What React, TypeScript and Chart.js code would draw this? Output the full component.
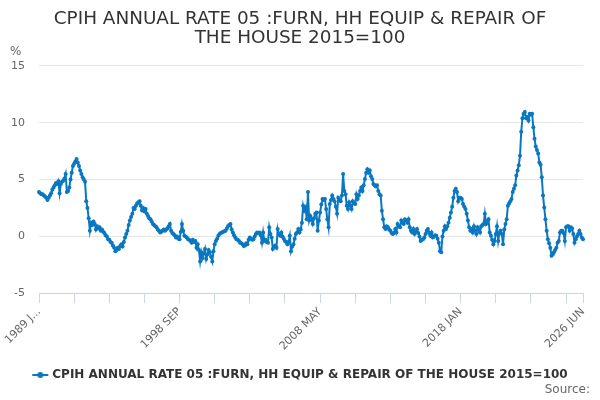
import { useEffect, useRef } from "react";
import { Chart, registerables } from "chart.js";

Chart.register(...registerables);

const TITLE = ["CPIH ANNUAL RATE 05 :FURN, HH EQUIP & REPAIR OF", "THE HOUSE 2015=100"];
const SERIES_NAME = "CPIH ANNUAL RATE 05 :FURN, HH EQUIP & REPAIR OF THE HOUSE 2015=100";
const START_YEAR = 1989;
const MONTHS = ["JAN", "FEB", "MAR", "APR", "MAY", "JUN", "JUL", "AUG", "SEP", "OCT", "NOV", "DEC"];

const y1989 = [3.9, 3.8, 3.7, 3.7, 3.6, 3.5, 3.4, 3.2, 3.4, 3.6, 3.8, 4.1];
const y1990 = [4.3, 4.5, 4.7, 4.6, 4.85, 3.8, 4.6, 4.8, 4.9, 5.1, 5.5, 3.9];
const y1991 = [4.0, 4.3, 5.0, 5.6, 6.2, 6.4, 6.6, 6.8, 6.5, 6.2, 5.8, 5.5];
const y1992 = [5.2, 5.0, 4.8, 3.1, 2.5, 1.6, 0.5, 1.2, 1.0, 1.3, 1.1, 0.6];
const y1993 = [0.9, 0.7, 0.8, 0.5, 0.6, 0.4, 0.3, 0.1, 0.0, -0.25, -0.3, -0.5];
const y1994 = [-0.55, -0.8, -1.0, -1.3, -1.2, -1.0, -1.1, -0.85, -0.7, -0.9, -0.5, -0.1];
const y1995 = [0.2, 0.5, 1.0, 1.4, 1.7, 2.0, 2.5, 2.4, 2.7, 2.9, 3.0, 3.1];
const y1996 = [2.7, 2.3, 2.5, 2.2, 2.4, 2.0, 1.8, 1.6, 1.5, 1.3, 1.1, 1.0];
const y1997 = [0.9, 0.8, 0.6, 0.5, 0.35, 0.4, 0.5, 0.6, 0.5, 0.6, 0.7, 0.9];
const y1998 = [1.1, 0.5, 0.3, 0.2, 0.1, -0.1, 0.0, -0.2, -0.25, 0.4, 1.1, 0.5];
const y1999 = [0.05, 0.0, -0.1, -0.25, -0.3, -0.4, -0.55, -0.3, -0.5, -0.4, -1.0, -0.7];
const y2000 = [-1.2, -2.2, -1.4, -1.9, -1.5, -1.1, -2.0, -1.6, -1.2, -1.4, -1.8, -2.2];
const y2001 = [-1.3, -0.7, -0.4, -0.2, 0.05, 0.2, 0.3, 0.35, 0.4, 0.45, 0.5, 0.7];
const y2002 = [0.9, 1.0, 1.1, 0.6, 0.35, 0.1, -0.1, -0.25, -0.3, -0.4, -0.55, -0.6];
const y2003 = [-0.7, -0.85, -0.8, -0.6, -0.7, -0.3, -0.1, -0.2, -0.3, -0.25, 0.0, 0.2];
const y2004 = [0.35, 0.3, 0.35, 0.1, -0.55, 0.35, -0.4, -0.3, -0.5, -0.55, 0.8, 0.2];
const y2005 = [-0.1, -1.1, -0.9, -0.8, -1.0, 0.65, 0.2, 0.05, 0.35, 0.0, -0.2, -0.4];
const y2006 = [-0.5, -0.7, -0.5, 0.05, -1.3, -0.9, -0.7, -0.2, 0.2, 0.35, 0.65, 0.35];
const y2007 = [0.6, 1.2, 2.7, 2.25, 2.55, 1.5, 3.9, 1.4, 1.8, 1.5, 1.1, 1.6];
const y2008 = [2.0, 2.1, 0.5, 1.4, 2.1, 2.8, 3.3, 3.2, 3.3, 2.4, 1.5, 0.8];
const y2009 = [2.85, 3.2, 3.6, 3.3, 3.1, 2.6, 2.0, 3.4, 3.2, 3.1, 3.6, 5.5];
const y2010 = [4.0, 3.7, 2.7, 2.4, 3.0, 2.7, 2.4, 3.1, 2.9, 2.85, 3.7, 3.3];
const y2011 = [3.6, 4.0, 4.3, 4.0, 4.5, 5.05, 5.6, 5.9, 5.6, 5.8, 5.3, 5.05];
const y2012 = [4.6, 4.5, 4.4, 4.5, 4.0, 3.7, 3.6, 2.25, 1.5, 0.8, 0.65, 0.9];
const y2013 = [0.8, 0.6, 0.5, 0.3, 0.2, 0.3, 0.65, 0.35, 1.1, 0.9, 0.8, 1.4];
const y2014 = [1.2, 1.1, 1.5, 1.4, 1.2, 1.5, 0.8, 0.5, 0.35, 0.65, 0.2, 0.4];
const y2015 = [0.65, 0.3, 0.0, -0.4, -0.3, -0.25, -0.1, 0.2, 0.5, 0.65, 0.3, 0.05];
const y2016 = [0.35, -0.1, 0.0, 0.1, 0.05, -0.2, -0.55, -1.3, -1.4, 0.0, 0.5, 0.9];
const y2017 = [0.65, 0.9, 1.2, 1.65, 2.1, 2.6, 3.4, 4.0, 4.2, 3.9, 3.1, 3.4];
const y2018 = [3.4, 3.3, 2.85, 2.6, 2.4, 2.0, 1.4, 0.8, 0.5, 0.65, 0.35, 0.9];
const y2019 = [0.5, 0.2, 0.8, 0.6, 0.35, 0.9, 1.0, 1.1, 2.0, 1.1, 1.3, 1.5];
const y2020 = [0.35, 0.05, -0.3, -0.7, -0.4, 0.2, 0.9, -0.4, 0.3, 0.5, 0.2, -0.7];
const y2021 = [0.6, 1.1, 1.5, 2.7, 2.9, 3.1, 3.3, 3.9, 4.2, 4.5, 5.35, 5.8];
const y2022 = [6.25, 7.1, 9.2, 10.4, 10.8, 10.95, 10.4, 10.5, 10.2, 10.8, 10.7, 10.8];
const y2023 = [9.6, 8.6, 7.9, 7.6, 7.3, 6.5, 6.3, 5.2, 3.6, 2.55, 1.5, 0.5];
const y2024 = [-0.25, -0.6, -1.0, -1.7, -1.6, -1.4, -1.2, -1.0, -0.55, -0.4, 0.35, 0.5];
const y2025 = [0.5, 0.3, -0.4, 0.8, 0.9, 0.9, 0.5, 0.8, 0.7, 0.2, -0.55, -0.25];
const y2026 = [0.0, 0.2, 0.5, 0.2, -0.1, -0.25];

const values = [
  ...y1989, ...y1990, ...y1991, ...y1992, ...y1993, ...y1994, ...y1995, ...y1996,
  ...y1997, ...y1998, ...y1999, ...y2000, ...y2001, ...y2002, ...y2003, ...y2004,
  ...y2005, ...y2006, ...y2007, ...y2008, ...y2009, ...y2010, ...y2011, ...y2012,
  ...y2013, ...y2014, ...y2015, ...y2016, ...y2017, ...y2018, ...y2019, ...y2020,
  ...y2021, ...y2022, ...y2023, ...y2024, ...y2025, ...y2026,
];

const categories = values.map((_, i) => `${START_YEAR + Math.floor(i / 12)} ${MONTHS[i % 12]}`);

const TICK_STEP = 29;
const LABEL_EVERY = 4;
const tickLabels = ["1989 J...", "1998 SEP", "2008 MAY", "2018 JAN", "2026 JUN"];

const yTicks = [-5, 0, 5, 10, 15];

const LINE_COLOR = "#0a77c1";
const FONT = "'DejaVu Sans', sans-serif";
const CENTER_SHIFT = 8.5;

function legendSymbol(): HTMLCanvasElement {
  const c = document.createElement("canvas");
  const r = window.devicePixelRatio || 1;
  c.width = 18 * r;
  c.height = 10 * r;
  c.style.width = "18px";
  c.style.height = "10px";
  const ctx = c.getContext("2d")!;
  ctx.scale(r, r);
  ctx.strokeStyle = LINE_COLOR;
  ctx.lineWidth = 2;
  ctx.beginPath();
  ctx.moveTo(1, 5);
  ctx.lineTo(17, 5);
  ctx.stroke();
  ctx.fillStyle = LINE_COLOR;
  ctx.beginPath();
  ctx.arc(9, 5, 3, 0, Math.PI * 2);
  ctx.fill();
  return c;
}

const extrasPlugin = {
  id: "extras",
  afterLayout(chart: any) {
    const lg = chart.legend;
    if (lg) {
      lg.left += CENTER_SHIFT + 1;
      lg.right += CENTER_SHIFT + 1;
    }
    const tb = chart.titleBlock;
    if (tb) {
      tb.left += CENTER_SHIFT;
      tb.right += CENTER_SHIFT;
    }
  },
  afterDraw(chart: any) {
    const { ctx, chartArea, width, height } = chart;
    ctx.save();
    ctx.fillStyle = "#666666";
    ctx.font = `12px ${FONT}`;
    ctx.textAlign = "left";
    ctx.textBaseline = "middle";
    ctx.fillText("%", 10, chartArea.top - 14);
    ctx.textAlign = "right";
    ctx.fillText("Source:", width - 10, height - 10);
    ctx.restore();
  },
};

export default function App() {
  const ref = useRef<HTMLCanvasElement | null>(null);

  useEffect(() => {
    document.body.style.margin = "0";
    const canvas = ref.current;
    if (!canvas) return;
    const sym = legendSymbol();
    const lastIdx = values.length - 1;
    const tickIdx: number[] = [];
    for (let i = 0; i <= lastIdx; i += TICK_STEP) tickIdx.push(i);
    if (tickIdx[tickIdx.length - 1] !== lastIdx) tickIdx.push(lastIdx);
    const labelAt = new Map<number, string>();
    for (let k = 0; k < tickLabels.length - 1; k++) labelAt.set(k * TICK_STEP * LABEL_EVERY, tickLabels[k]);
    labelAt.set(lastIdx, tickLabels[tickLabels.length - 1]);

    const chart = new Chart(canvas, {
      type: "line",
      data: {
        labels: categories,
        datasets: [
          {
            label: SERIES_NAME,
            data: values,
            borderColor: LINE_COLOR,
            backgroundColor: LINE_COLOR,
            borderWidth: 2,
            pointRadius: 2,
            pointHoverRadius: 3,
            pointBorderWidth: 0,
            tension: 0,
          },
        ],
      },
      options: {
        responsive: false,
        animation: false,
        layout: { padding: { left: 0, right: 17, top: 4, bottom: 9 } },
        plugins: {
          title: {
            display: true,
            text: TITLE,
            color: "#333333",
            font: { family: FONT, size: 18.4, weight: "normal", lineHeight: 1.03 },
            padding: { top: 6, bottom: 18 },
          },
          legend: {
            position: "bottom",
            labels: {
              color: "#333333",
              font: { family: FONT, size: 12, weight: "bold" },
              usePointStyle: true,
              generateLabels: (ch: any) => {
                const items = Chart.defaults.plugins.legend.labels.generateLabels(ch);
                return items.map((it: any) => ({ ...it, pointStyle: sym }));
              },
            },
          },
          tooltip: { enabled: false },
        },
        scales: {
          x: {
            type: "category",
            afterBuildTicks: (scale: any) => {
              scale.ticks = tickIdx.map((v) => ({ value: v }));
            },
            afterFit: (scale: any) => {
              scale.height += 4;
            },
            ticks: {
              autoSkip: false,
              maxRotation: 45,
              minRotation: 45,
              color: "#666666",
              font: { family: FONT, size: 11 },
              padding: 2,
              callback: (value: any) => labelAt.get(Number(value)) ?? "",
            },
            grid: {
              drawOnChartArea: false,
              drawTicks: true,
              tickLength: 10,
              color: "#ccd6eb",
            },
            border: { color: "#ccd6eb" },
          },
          y: {
            min: -5,
            max: 15,
            afterBuildTicks: (scale: any) => {
              scale.ticks = yTicks.map((v) => ({ value: v }));
            },
            afterFit: (scale: any) => {
              scale.width = 39;
            },
            ticks: {
              color: "#666666",
              font: { family: FONT, size: 11 },
              padding: 14,
            },
            grid: { color: "#e6e6e6", drawTicks: false },
            border: { display: false },
          },
        },
      },
      plugins: [extrasPlugin],
    });
    return () => chart.destroy();
  }, []);

  return (
    <div style={{ width: 600, height: 400 }}>
      <canvas ref={ref} width={600} height={400} style={{ width: 600, height: 400 }} />
    </div>
  );
}
